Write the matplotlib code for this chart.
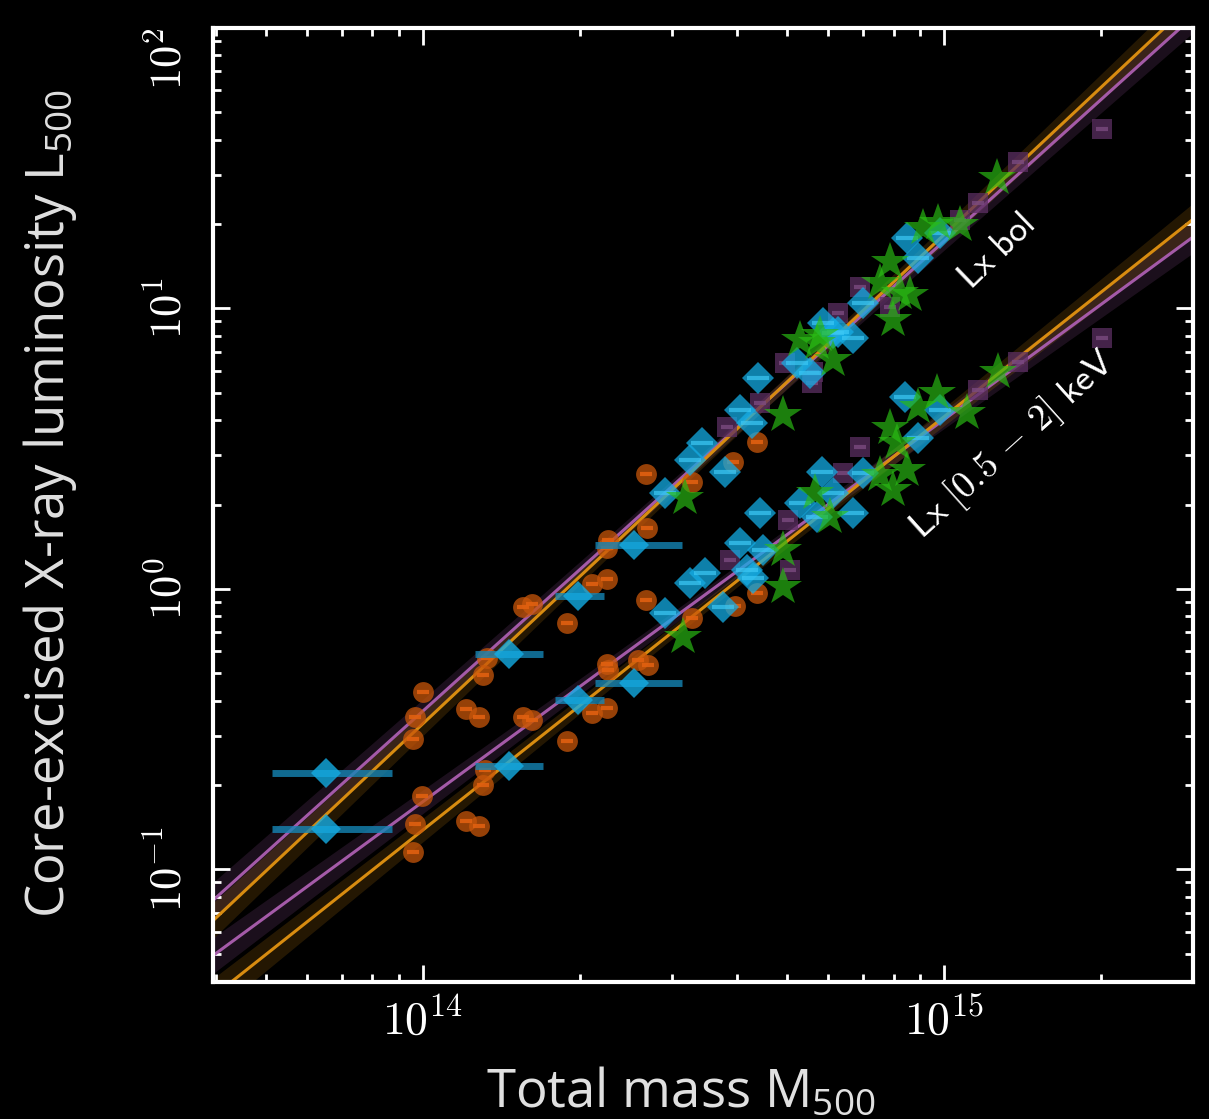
import numpy as np
import matplotlib.pyplot as plt
from matplotlib.ticker import LogLocator, NullFormatter

plt.rcParams['mathtext.fontset'] = 'custom'
plt.rcParams['mathtext.rm'] = 'Open Sans'
plt.rcParams['mathtext.it'] = 'Open Sans:italic'

# --- data (log10 M500 [Msun], log10 L500) ---
# orange circles
circ_bol_m = [14.000, 13.985, 13.981, 14.083, 14.107, 14.123, 14.115, 14.192, 14.209, 14.276,
              14.324, 14.353, 14.353, 14.355, 14.430, 14.428, 14.516, 14.595, 14.641]
circ_bol_l = [-0.367, -0.456, -0.535, -0.428, -0.456, -0.246, -0.307, -0.064, -0.053, -0.121,
              0.018, 0.036, 0.146, 0.175, 0.217, 0.410, 0.381, 0.453, 0.524]
circ_soft_m = [13.998, 13.985, 13.981, 14.083, 14.107, 14.119, 14.115, 14.192, 14.209, 14.276,
               14.324, 14.353, 14.353, 14.355, 14.413, 14.432, 14.428, 14.516, 14.599, 14.641]
circ_soft_l = [-0.738, -0.838, -0.938, -0.827, -0.845, -0.645, -0.699, -0.456, -0.467, -0.542,
               -0.442, -0.424, -0.267, -0.289, -0.253, -0.271, -0.039, -0.103, -0.061, -0.014]

# blue diamonds with wide mass error bars
wide_m = [13.814, 14.165, 14.298, 14.405]
wide_m_lo = [13.710, 14.100, 14.253, 14.330]
wide_m_hi = [13.940, 14.230, 14.347, 14.497]
wide_bol_l = [-0.656, -0.232, -0.025, 0.157]
wide_soft_l = [-0.856, -0.631, -0.396, -0.335]

# blue diamonds
diam_bol_m = [14.464, 14.512, 14.536, 14.580, 14.608, 14.631, 14.643, 14.718, 14.743, 14.768,
              14.797, 14.825, 14.845, 14.929, 14.950, 14.992, 14.787]
diam_bol_l = [0.342, 0.460, 0.520, 0.417, 0.638, 0.592, 0.752, 0.806, 0.770, 0.948,
              0.916, 0.895, 1.020, 1.251, 1.180, 1.269, 0.913]
diam_soft_m = [14.464, 14.512, 14.541, 14.576, 14.608, 14.622, 14.633, 14.647, 14.653, 14.724,
               14.756, 14.766, 14.787, 14.825, 14.845, 14.925, 14.950, 14.992]
diam_soft_l = [-0.086, 0.021, 0.057, -0.064, 0.164, 0.068, 0.039, 0.271, 0.139, 0.307,
               0.257, 0.417, 0.342, 0.271, 0.414, 0.684, 0.538, 0.638]

# green stars
star_bol_m = [14.503, 14.691, 14.724, 14.756, 14.787, 14.762, 14.877, 14.896, 14.902, 14.916,
              14.935, 14.960, 14.988, 15.031, 15.102]
star_bol_l = [0.324, 0.620, 0.888, 0.877, 0.816, 0.906, 1.091, 1.166, 0.959, 1.055,
              1.048, 1.287, 1.305, 1.298, 1.465]
star_soft_m = [14.499, 14.691, 14.691, 14.752, 14.781, 14.877, 14.902, 14.929, 14.896, 14.910,
               14.950, 14.987, 15.044, 15.104]
star_soft_l = [-0.171, 0.007, 0.139, 0.342, 0.257, 0.406, 0.353, 0.424, 0.574, 0.520,
               0.649, 0.699, 0.627, 0.774]

# purple squares
sq_bol_m = [15.303, 15.142, 15.065, 15.031, 14.896, 14.839, 14.797, 14.749, 14.695, 14.747,
            14.647, 14.583]
sq_bol_l = [1.640, 1.522, 1.376, 1.316, 1.005, 1.077, 0.984, 0.774, 0.806, 0.734,
            0.663, 0.578]
sq_soft_m = [15.303, 15.142, 15.065, 14.839, 14.806, 14.701, 14.704, 14.589]
sq_soft_l = [0.895, 0.809, 0.709, 0.506, 0.414, 0.246, 0.068, 0.103]

# scaling-relation fits: log L = norm + slope * (log M - 14)
fit_norm = {'bol_p': -0.435, 'bol_o': -0.480, 'soft_p': -0.758, 'soft_o': -0.859}
fit_slope = {'bol_p': 1.675, 'bol_o': 1.743, 'soft_p': 1.362, 'soft_o': 1.473}
fit_err_norm = 0.022
fit_err_slope = 0.06
pivot = 14.6

xticks = [1e14, 1e15]
xtick_labels = [r'$10^{14}$', r'$10^{15}$']
yticks = [0.1, 1, 10, 100]
ytick_labels = [r'$10^{-1}$', r'$10^{0}$', r'$10^{1}$', r'$10^{2}$']

purple = '#a45aa8'
orange = '#d88c10'
c_circ = '#c8560a'
c_diam = '#14ace4'
c_star = '#2abc14'
c_sq = '#5c2f62'
fg = 'white'

fig = plt.figure(figsize=(12.09, 11.19), dpi=100, facecolor='black')
ax = fig.add_axes([0.1762, 0.1224, 0.8106, 0.8526], facecolor='black')
ax.set_xscale('log')
ax.set_yscale('log')

# fit lines with bands
lm = np.linspace(13.5, 15.6, 300)
for key, col in [('bol_p', purple), ('bol_o', orange), ('soft_p', purple), ('soft_o', orange)]:
    ll = fit_norm[key] + fit_slope[key] * (lm - 14)
    sig = np.sqrt(fit_err_norm ** 2 + (fit_err_slope * (lm - pivot)) ** 2)
    ax.fill_between(10 ** lm, 10 ** (ll - sig), 10 ** (ll + sig), color=col, alpha=0.17, lw=0, zorder=1)
    ax.plot(10 ** lm, 10 ** ll, color=col, lw=2.2, zorder=2)

# data points
for m, l in [(circ_bol_m, circ_bol_l), (circ_soft_m, circ_soft_l)]:
    ax.plot(10 ** np.array(m), 10 ** np.array(l), 'o', ms=15, color=c_circ, alpha=0.75, mew=0, zorder=3)
    ax.plot(10 ** np.array(m), 10 ** np.array(l), '_', ms=8, color='#e06010', alpha=0.9, mew=3, zorder=3)

for l in [wide_bol_l, wide_soft_l]:
    m = 10 ** np.array(wide_m)
    xerr = [m - 10 ** np.array(wide_m_lo), 10 ** np.array(wide_m_hi) - m]
    ax.errorbar(m, 10 ** np.array(l), xerr=xerr, fmt='D', ms=15, color=c_diam, ecolor='#1585b5',
                elinewidth=5, capsize=0, alpha=0.8, mew=0, zorder=4)

for m, l in [(sq_bol_m, sq_bol_l), (sq_soft_m, sq_soft_l)]:
    ax.plot(10 ** np.array(m), 10 ** np.array(l), 's', ms=15, color=c_sq, alpha=0.75, mew=0, zorder=3)
    ax.plot(10 ** np.array(m), 10 ** np.array(l), '_', ms=8, color='#7a4a80', alpha=0.8, mew=3, zorder=3)

for m, l in [(diam_bol_m, diam_bol_l), (diam_soft_m, diam_soft_l)]:
    ax.plot(10 ** np.array(m), 10 ** np.array(l), 'D', ms=16, color=c_diam, alpha=0.75, mew=0, zorder=4)
    ax.plot(10 ** np.array(m), 10 ** np.array(l), '_', ms=16, color='#3cc8f5', alpha=0.7, mew=3, zorder=4)

for m, l in [(star_bol_m, star_bol_l), (star_soft_m, star_soft_l)]:
    ax.plot(10 ** np.array(m), 10 ** np.array(l), '*', ms=29, color=c_star, alpha=0.68, mew=0, zorder=5)

# band labels
ax.text(10 ** 15.100, 10 ** 1.201, r'$\mathsf{Lx\ bol}$', math_fontfamily='cm', color=fg,
        fontsize=26, rotation=44, ha='center', va='center', zorder=6)
ax.text(10 ** 15.131, 10 ** 0.513, r'$\mathsf{Lx\ [0.5\,-\,2]\ keV}$', math_fontfamily='cm', color=fg,
        fontsize=27, rotation=42, ha='center', va='center', zorder=6)

ax.set_xlim(3.954e13, 3.006e15)
ax.set_ylim(0.0397, 100)

ax.set_xticks(xticks)
ax.set_xticklabels(xtick_labels, math_fontfamily='cm', fontsize=33, color=fg)
ax.set_yticks(yticks)
ax.set_yticklabels(ytick_labels, math_fontfamily='cm', fontsize=32, color=fg, rotation=90, va='center')
ax.get_yticklabels()[-1].set_va('top')
ax.xaxis.set_minor_locator(LogLocator(base=10, subs=np.arange(2, 10)))
ax.yaxis.set_minor_locator(LogLocator(base=10, subs=np.arange(2, 10)))
ax.xaxis.set_minor_formatter(NullFormatter())
ax.yaxis.set_minor_formatter(NullFormatter())
ax.tick_params(which='both', direction='in', top=True, right=True, color=fg, width=2)
ax.tick_params(which='major', length=12, pad=12)
ax.tick_params(axis='y', which='major', pad=16)
ax.tick_params(which='minor', length=6)
for s in ax.spines.values():
    s.set_color(fg)
    s.set_linewidth(3)

ax.set_xlabel(r'Total mass M$_{500}$', fontsize=38, color='#e0e0e0', family='Open Sans')
ax.xaxis.set_label_coords(0.477, -0.088)
ax.set_ylabel(r'Core-excised X-ray luminosity L$_{500}$', fontsize=38, color='#e0e0e0',
              family='Open Sans')
ax.yaxis.set_label_coords(-0.137, 0.502)

fig.savefig('out.png', dpi=100, facecolor='black')
